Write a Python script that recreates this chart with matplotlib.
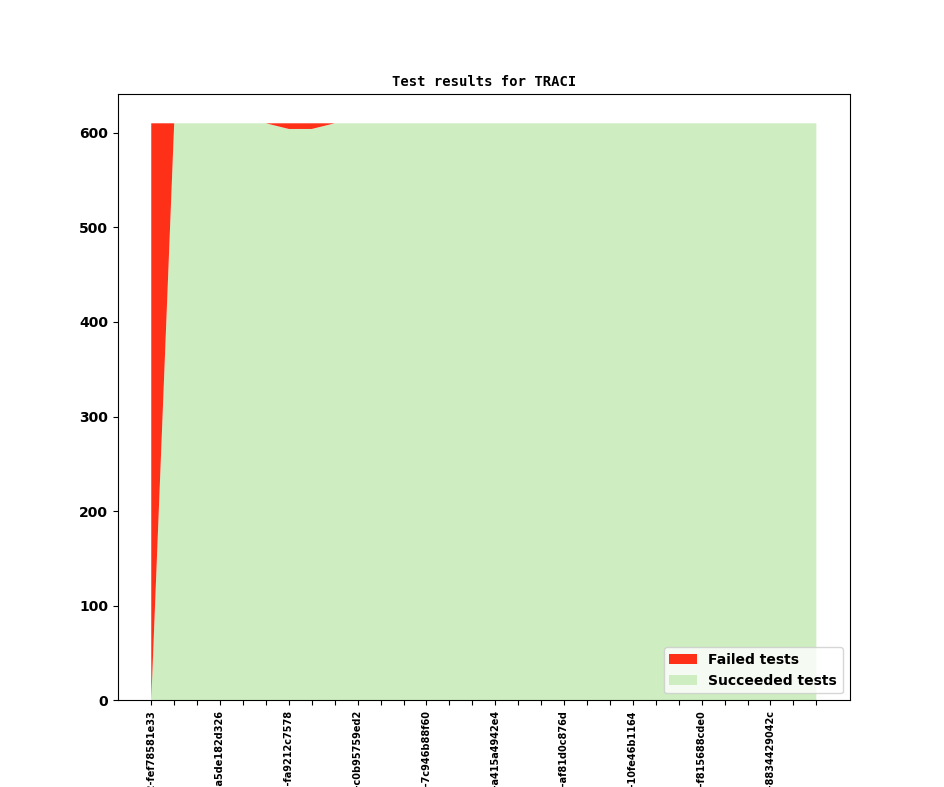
import matplotlib
matplotlib.use("Agg")
import matplotlib.pyplot as plt
import numpy as np

# revisions shown on the x axis (only every third one is labelled)
shown_revisions = ["v1_0_0+0412-fef78581e33", "v1_0_0+0455-a5de182d326",
                   "v1_0_0+0501-fa9212c7578", "v1_0_0+0537-c0b95759ed2",
                   "v1_0_0+0580-7c946b88f60", "v1_0_0+0622-a415a4942e4",
                   "v1_0_0+0668-af81d0c876d", "v1_0_0+0703-10fe46b1164",
                   "v1_0_0+0749-f815688cde0", "v1_0_0+0791-8834429042c"]

failed = [610, 0, 0, 0, 0, 0, 6, 6, 0, 0,
          0, 0, 0, 0, 0, 0, 0, 0, 0, 0,
          0, 0, 0, 0, 0, 0, 0, 0, 0, 0]
succeeded = [0, 610, 610, 610, 610, 610, 604, 604, 610, 610,
             610, 610, 610, 610, 610, 610, 610, 610, 610, 610,
             610, 610, 610, 610, 610, 610, 610, 610, 610, 610]

x = np.arange(len(failed))

fig, ax = plt.subplots(figsize=(9.44, 7.87), dpi=100)
polys = ax.stackplot(x, succeeded, failed,
                     colors=["#ceedc0", "#ff3018"],
                     labels=["Succeeded tests", "Failed tests"])

ax.set_title("Test results for TRACI", family="monospace",
             fontweight="bold", fontsize=10)

labels = []
for i in x:
    labels.append(shown_revisions[i // 3] if i % 3 == 0 else "")
ax.set_xticks(x)
ax.set_xticklabels(labels, rotation=90, fontsize=7, fontweight="bold")
for t in ax.get_yticklabels():
    t.set_fontweight("bold")

handles, labs = ax.get_legend_handles_labels()
ax.legend(handles[::-1], labs[::-1], loc="lower right",
          prop={"weight": "bold", "size": 10})

plt.savefig("out.png", dpi=100)
